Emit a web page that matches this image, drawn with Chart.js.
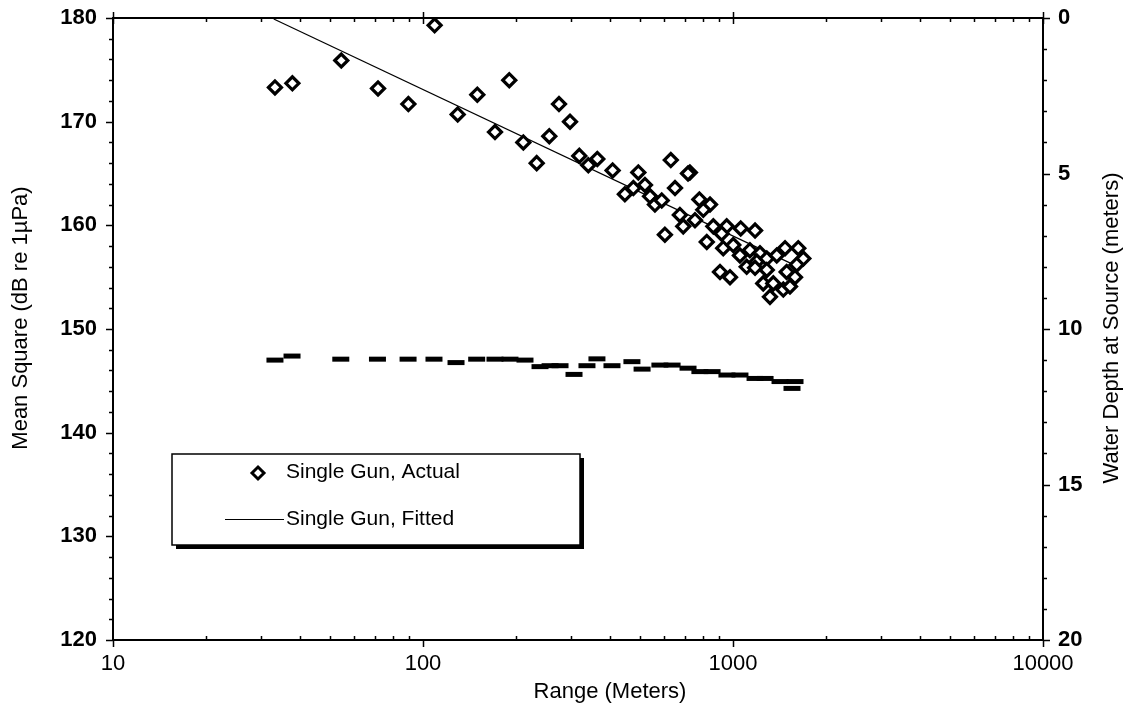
<!DOCTYPE html>
<html>
<head>
<meta charset="utf-8">
<script src="https://cdn.jsdelivr.net/npm/chart.js@4"></script>
<style>
html,body{margin:0;padding:0;background:#fff;}
#wrap{width:1131px;height:714px;position:relative;}
canvas{display:block;}
</style>
</head>
<body>
<div id="wrap"><canvas id="c" width="1131" height="714"></canvas></div>
<script>
// ---- data ----
const xTickLabels = [10, 100, 1000, 10000];
const yTickLabels = [120, 130, 140, 150, 160, 170, 180];
const depthTickLabels = [0, 5, 10, 15, 20];

const actualRange = [33.3,37.9,54.5,71.6,89.7,109,129.4,149.7,189.8,170.7,210.7,
  274.6,298,255.5,232.7,319.3,341.4,365,409,495,448,477,520,540,560,589,630,726,716,650,603,674,691,754,779,843,802,864,823,954,919,1059,1178,930,1002,1053,1134,1222,908,978,1107,1193,1285,1384,1472,1624,1686,1605,1490,1585,1252,1349,1316,1453,1527,1178,1285];
const actualLevel = [173.3,173.7,175.9,173.2,171.7,179.3,170.7,172.6,174.0,169.0,168.0,
  171.7,170.0,168.6,166.0,166.7,165.8,166.4,165.3,165.1,163.0,163.6,163.9,162.8,162.0,162.4,166.3,165.1,165.0,163.6,159.1,161.0,159.9,160.5,162.5,162.0,161.5,159.9,158.4,159.9,159.2,159.7,159.5,157.8,158.1,157.1,157.6,157.3,155.5,155.0,156.0,156.5,156.8,157.1,157.8,157.8,156.8,156.2,155.5,155.0,154.4,154.4,153.1,153.8,154.1,155.9,155.7];

const fittedRange = [33, 1650];
const fittedLevel = [179.9, 155.9];

const depthRange = [33.3,37.8,54.3,71.3,89.5,108.5,127.8,149,170.7,190.8,213.3,238.5,257,276.7,307,338,364,407,472,509,581,636,716,782,856,956,1053,1178,1269,1418,1585,1550];
const depthValue = [11.0,10.87,10.97,10.97,10.97,10.97,11.08,10.97,10.97,10.97,11.0,11.21,11.18,11.18,11.46,11.18,10.96,11.18,11.05,11.29,11.16,11.16,11.26,11.37,11.37,11.48,11.48,11.59,11.59,11.69,11.69,11.91];

const seriesNames = ['Single Gun, Actual', 'Single Gun, Fitted'];
const xTitle = 'Range (Meters)';
const yTitle = 'Mean Square (dB re 1µPa)';
const y2Title = 'Water Depth at Source (meters)';

// ---- build ----
const zip = (a, b) => a.map((v, i) => ({x: v, y: b[i]}));
const FONT = 'Liberation Sans, Arial, sans-serif';

const framePlugin = {
  id: 'frame',
  afterDatasetsDraw(chart) {
    const ctx = chart.ctx;
    const a = chart.chartArea;
    const sx = chart.scales.x, sy = chart.scales.y, s2 = chart.scales.y2;
    ctx.save();
    ctx.strokeStyle = '#000';
    ctx.lineWidth = 2;
    ctx.strokeRect(a.left, a.top, a.right - a.left, a.bottom - a.top);
    ctx.lineWidth = 1.5;
    ctx.beginPath();
    for (let v = 120; v <= 180; v += 2) {
      const p = Math.round(sy.getPixelForValue(v)) + 0.5;
      const len = (v % 10 === 0) ? 7 : 4;
      ctx.moveTo(a.left - len, p); ctx.lineTo(a.left, p);
    }
    for (let v = 0; v <= 20; v += 1) {
      const p = Math.round(s2.getPixelForValue(v)) + 0.5;
      const len = (v % 5 === 0) ? 7 : 4;
      ctx.moveTo(a.right, p); ctx.lineTo(a.right + len, p);
    }
    for (let d = 10; d <= 10000; d *= 10) {
      for (let k = 1; k <= 9; k++) {
        const v = d * k;
        if (v > 10000) break;
        const p = Math.round(sx.getPixelForValue(v)) + 0.5;
        if (k === 1) {
          ctx.moveTo(p, a.bottom); ctx.lineTo(p, a.bottom + 7);
          ctx.moveTo(p, a.top - 6); ctx.lineTo(p, a.top + 6);
        } else {
          ctx.moveTo(p, a.bottom); ctx.lineTo(p, a.bottom - 4);
          ctx.moveTo(p, a.top); ctx.lineTo(p, a.top + 4);
        }
      }
    }
    ctx.stroke();

    // axis titles
    ctx.fillStyle = '#000';
    ctx.font = '22px ' + FONT;
    ctx.textAlign = 'center';
    ctx.textBaseline = 'middle';
    ctx.fillText(xTitle, 610, 692);
    ctx.save();
    ctx.translate(21, 318);
    ctx.rotate(-Math.PI / 2);
    ctx.fillText(yTitle, 0, 0);
    ctx.restore();
    ctx.save();
    ctx.translate(1112, 328);
    ctx.rotate(-Math.PI / 2);
    ctx.fillText(y2Title, 0, 0);
    ctx.restore();

    // legend
    const lx = 172, ly = 454, lw = 408, lh = 91;
    ctx.fillStyle = '#000';
    ctx.fillRect(lx + 4, ly + 4, lw, lh);
    ctx.fillStyle = '#fff';
    ctx.fillRect(lx, ly, lw, lh);
    ctx.lineWidth = 1.5;
    ctx.strokeStyle = '#000';
    ctx.strokeRect(lx, ly, lw, lh);
    const mx = 258, my = 473;
    ctx.lineWidth = 3;
    ctx.beginPath();
    ctx.moveTo(mx, my - 6); ctx.lineTo(mx + 6, my); ctx.lineTo(mx, my + 6); ctx.lineTo(mx - 6, my); ctx.closePath();
    ctx.fillStyle = '#fff'; ctx.fill(); ctx.stroke();
    ctx.lineWidth = 1;
    ctx.beginPath();
    ctx.moveTo(225, 519.5); ctx.lineTo(284, 519.5);
    ctx.stroke();
    ctx.fillStyle = '#000';
    ctx.font = '21px ' + FONT;
    ctx.textAlign = 'left';
    ctx.fillText(seriesNames[0], 286, 472);
    ctx.fillText(seriesNames[1], 286, 519);
    ctx.restore();
  }
};

function fitVertical(width) {
  return function (s) {
    s.width = width;
    s.paddingTop = 0;
    s.paddingBottom = 0;
  };
}

new Chart(document.getElementById('c'), {
  type: 'scatter',
  data: {
    datasets: [
      {
        label: seriesNames[0],
        data: zip(actualRange, actualLevel),
        pointStyle: 'rectRot',
        radius: 6.5,
        borderWidth: 3.2,
        borderColor: '#000',
        backgroundColor: '#fff',
        yAxisID: 'y'
      },
      {
        label: seriesNames[1],
        data: zip(fittedRange, fittedLevel),
        showLine: true,
        pointRadius: 0,
        borderWidth: 1.2,
        borderColor: '#000',
        yAxisID: 'y'
      },
      {
        label: 'Depth',
        data: zip(depthRange, depthValue),
        pointStyle: 'line',
        radius: 8.5,
        borderWidth: 5,
        borderColor: '#000',
        backgroundColor: '#000',
        yAxisID: 'y2'
      }
    ]
  },
  options: {
    responsive: false,
    animation: false,
    devicePixelRatio: 1,
    layout: {autoPadding: false, padding: {top: 18, left: 0, right: 0, bottom: 0}},
    plugins: {legend: {display: false}, tooltip: {enabled: false}},
    scales: {
      x: {
        type: 'logarithmic', position: 'bottom', min: 10, max: 10000,
        afterFit(s) { s.height = 74; s.paddingLeft = 0; s.paddingRight = 0; },
        afterBuildTicks(s) { s.ticks = xTickLabels.map(v => ({value: v})); },
        grid: {display: false, drawTicks: false},
        border: {display: false},
        ticks: {
          autoSkip: false, maxRotation: 0, padding: 11, color: '#000',
          font: {family: FONT, size: 22},
          callback: v => String(v)
        }
      },
      y: {
        type: 'linear', position: 'left', min: 120, max: 180,
        afterFit: fitVertical(113),
        afterBuildTicks(s) { s.ticks = yTickLabels.map(v => ({value: v})); },
        grid: {display: false, drawTicks: false},
        border: {display: false},
        ticks: {padding: 16, color: '#000', font: {family: FONT, size: 22, weight: 'bold'}}
      },
      y2: {
        type: 'linear', position: 'right', min: 0, max: 20, reverse: true,
        afterFit: fitVertical(88),
        afterBuildTicks(s) { s.ticks = depthTickLabels.map(v => ({value: v})); },
        grid: {display: false, drawTicks: false},
        border: {display: false},
        ticks: {padding: 15, color: '#000', font: {family: FONT, size: 22, weight: 'bold'}}
      }
    }
  },
  plugins: [framePlugin]
});
</script>
</body>
</html>
